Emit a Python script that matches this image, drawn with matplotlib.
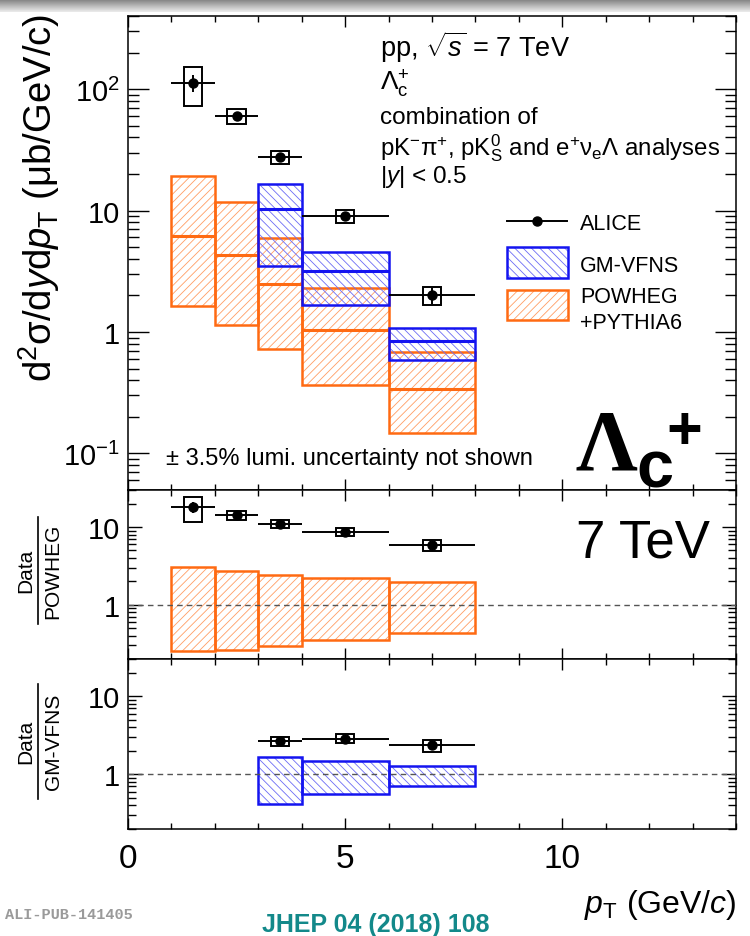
import numpy as np
import matplotlib
matplotlib.use("Agg")
import matplotlib.pyplot as plt
from matplotlib.patches import Rectangle
from matplotlib.lines import Line2D
from matplotlib.ticker import (LogLocator, FixedLocator, FixedFormatter,
                               MultipleLocator, NullFormatter)

plt.rcParams['font.family'] = ['Liberation Sans', 'DejaVu Sans']
plt.rcParams['mathtext.fontset'] = 'custom'
plt.rcParams['mathtext.rm'] = 'Liberation Sans'
plt.rcParams['mathtext.it'] = 'Liberation Sans:italic'
plt.rcParams['mathtext.bf'] = 'Liberation Sans:bold'
plt.rcParams['hatch.linewidth'] = 0.6

# ---------------- data ----------------
bin_lo = [1, 2, 3, 4, 6]
bin_hi = [2, 3, 4, 6, 8]
pt = [1.5, 2.5, 3.5, 5.0, 7.0]

alice_xsec = [113, 60, 27.5, 9.0, 2.0]
alice_stat = [18, 4, 1.5, 0.5, 0.3]
alice_syst = [40, 8, 3.2, 1.1, 0.33]

powheg_central = [6.2, 4.33, 2.49, 1.03, 0.339]
powheg_up = [19.2, 11.7, 5.96, 2.29, 0.68]
powheg_down = [1.63, 1.15, 0.72, 0.363, 0.147]

gm_lo = [3, 4, 6]
gm_hi = [4, 6, 8]
gm_central = [10.3, 3.16, 0.85]
gm_up = [16.4, 4.54, 1.08]
gm_down = [3.5, 1.67, 0.59]

ratio_pow = [18.0, 14.1, 11.1, 8.7, 5.9]
ratio_pow_stat = [3.0, 1.0, 0.6, 0.4, 0.6]
ratio_pow_syst = [6.5, 1.8, 1.4, 1.1, 0.95]
pow_band_up = [3.07, 2.70, 2.40, 2.22, 1.99]
pow_band_down = [0.257, 0.26, 0.29, 0.35, 0.43]

gm_pt = [3.5, 5.0, 7.0]
ratio_gm = [2.65, 2.87, 2.35]
ratio_gm_stat = [0.15, 0.15, 0.3]
ratio_gm_syst = [0.36, 0.38, 0.41]
gm_band_up = [1.67, 1.47, 1.29]
gm_band_down = [0.42, 0.565, 0.71]

ORANGE = '#ff6a12'
ORANGE_H = '#ff9d63'
BLUE = '#1414f0'
BLUE_H = '#6c6cf5'
HATCH_POW = '////'
HATCH_GM = '\\\\\\\\'

W_PX, H_PX = 750, 937
fig = plt.figure(figsize=(7.5, 9.37), dpi=100)


def fx(x):
    return x / W_PX


def fy(y):
    return 1 - y / H_PX


def add_ax(top, bot, left=128, right=736):
    return fig.add_axes([fx(left), fy(bot), (right - left) / W_PX, (bot - top) / H_PX])


ax1 = add_ax(17, 491)
ax2 = add_ax(491, 660)
ax3 = add_ax(660, 830)

# gradient strip at the very top
axg = fig.add_axes([0, fy(13), 1, 13 / H_PX])
axg.imshow(np.linspace(0.5, 0.92, 20)[:, None], cmap='gray', vmin=0, vmax=1,
           aspect='auto', extent=[0, 1, 0, 1])
axg.axis('off')


def band(ax, lo, hi, down, up, color, hcolor, hatch, z):
    ax.add_patch(Rectangle((lo, down), hi - lo, up - down, facecolor='none',
                           edgecolor=hcolor, hatch=hatch, lw=0, zorder=z))
    ax.add_patch(Rectangle((lo, down), hi - lo, up - down, facecolor='none',
                           edgecolor=color, lw=1.8, zorder=z + 0.1))


def data_points(ax, x, y, lo, hi, stat, syst):
    x = np.asarray(x, float)
    for xi, yi, s in zip(x, y, syst):
        ax.add_patch(Rectangle((xi - 0.21, yi - s), 0.42, 2 * s, fill=False,
                               ec='k', lw=1.4, zorder=6))
    ax.errorbar(x, y, xerr=[x - np.asarray(lo), np.asarray(hi) - x], yerr=stat,
                fmt='o', color='k', ms=6.5, lw=1.4, capsize=0, zorder=7)


# ---------------- top panel ----------------
for lo, hi, c, u, d in zip(bin_lo, bin_hi, powheg_central, powheg_up, powheg_down):
    band(ax1, lo, hi, d, u, ORANGE, ORANGE_H, HATCH_POW, 2)
    ax1.hlines(c, lo, hi, color=ORANGE, lw=2.2, zorder=2.5)
for lo, hi, c, u, d in zip(gm_lo, gm_hi, gm_central, gm_up, gm_down):
    band(ax1, lo, hi, d, u, BLUE, BLUE_H, HATCH_GM, 3)
    ax1.hlines(c, lo, hi, color=BLUE, lw=2.2, zorder=3.5)
data_points(ax1, pt, alice_xsec, bin_lo, bin_hi, alice_stat, alice_syst)
ax1.set_ylim(0.05, 400)

# ---------------- Data / POWHEG ----------------
for lo, hi, u, d in zip(bin_lo, bin_hi, pow_band_up, pow_band_down):
    band(ax2, lo, hi, d, u, ORANGE, ORANGE_H, HATCH_POW, 2)
data_points(ax2, pt, ratio_pow, bin_lo, bin_hi, ratio_pow_stat, ratio_pow_syst)
ax2.set_ylim(0.2, 30)

# ---------------- Data / GM-VFNS ----------------
for lo, hi, u, d in zip(gm_lo, gm_hi, gm_band_up, gm_band_down):
    band(ax3, lo, hi, d, u, BLUE, BLUE_H, HATCH_GM, 2)
data_points(ax3, gm_pt, ratio_gm, gm_lo, gm_hi, ratio_gm_stat, ratio_gm_syst)
ax3.set_ylim(0.2, 30)

for ax in (ax2, ax3):
    ax.axhline(1, color='#555555', ls=(0, (4, 3)), lw=1.0, zorder=4)

# ---------------- axes styling ----------------
for ax, ymaj, ymin_len in ((ax1, 15, 8), (ax2, 10, 5.5), (ax3, 10, 5.5)):
    ax.set_xlim(0, 14)
    ax.set_yscale('log')
    ax.xaxis.set_major_locator(MultipleLocator(5))
    ax.xaxis.set_minor_locator(MultipleLocator(1))
    ax.yaxis.set_minor_locator(LogLocator(base=10, subs=np.arange(2, 10), numticks=20))
    ax.yaxis.set_minor_formatter(NullFormatter())
    ax.tick_params(axis='x', which='major', direction='in', top=True, bottom=True,
                   length=8, width=1)
    ax.tick_params(axis='x', which='minor', direction='in', top=True, bottom=True,
                   length=4.3, width=1)
    ax.tick_params(axis='y', which='major', direction='in', left=True, right=True,
                   length=ymaj, width=1, labelsize=21, pad=6)
    ax.tick_params(axis='y', which='minor', direction='in', left=True, right=True,
                   length=ymin_len, width=1)
    for sp in ax.spines.values():
        sp.set_linewidth(1.1)

ax1.yaxis.set_major_locator(FixedLocator([0.1, 1, 10, 100]))
ax1.yaxis.set_major_formatter(FixedFormatter([r'$10^{-1}$', '1', '10', r'$10^{2}$']))
for ax in (ax2, ax3):
    ax.yaxis.set_major_locator(FixedLocator([1, 10]))
    ax.yaxis.set_major_formatter(FixedFormatter(['1', '10']))
ax1.tick_params(axis='x', labelbottom=False)
ax2.tick_params(axis='x', labelbottom=False)
ax3.tick_params(axis='x', labelsize=24, pad=10)

# ---------------- axis titles ----------------
fig.text(fx(39), fy(198), r'd$^{2}$σ/d$y$d$p_{\mathrm{T}}$ (μb/GeV/c)',
         rotation=90, ha='center', va='center', fontsize=27.5)
fig.text(fx(736), fy(905), r'$p_{\mathrm{T}}$ (GeV/$c$)', ha='right', va='center',
         fontsize=23)

for dy, denom in ((571, 'POWHEG'), (742, 'GM-VFNS')):
    fig.text(fx(26), fy(dy), 'Data', rotation=90, ha='center', va='center', fontsize=15)
    fig.text(fx(53), fy(dy), denom, rotation=90, ha='center', va='center', fontsize=15)
fig.add_artist(Line2D([fx(38)] * 2, [fy(518), fy(625)], transform=fig.transFigure,
                      color='k', lw=1.2))
fig.add_artist(Line2D([fx(38)] * 2, [fy(685), fy(800)], transform=fig.transFigure,
                      color='k', lw=1.2))

# ---------------- annotations ----------------
tx = fx(380)
fig.text(tx, fy(57), r'pp, $\sqrt{s}$ = 7 TeV', fontsize=19.5, va='baseline')
fig.text(tx, fy(91), r'$\Lambda_{\mathrm{c}}^{+}$', fontsize=19, va='baseline')
fig.text(tx, fy(124), 'combination of', fontsize=17.5, va='baseline')
fig.text(tx, fy(155), r'pK$^{-}$π$^{+}$, pK$_{\mathrm{S}}^{0}$ and e$^{+}$ν$_{\mathrm{e}}$Λ analyses',
         fontsize=17.3, va='baseline')
fig.text(tx, fy(183), r'|$y$| < 0.5', fontsize=17.5, va='baseline')

fig.text(fx(166), fy(465), '± 3.5% lumi. uncertainty not shown', fontsize=17,
         va='baseline')

fig.text(fx(575), fy(470), 'Λ', fontsize=62, fontweight='bold',
         family=['Liberation Serif', 'DejaVu Serif'], va='baseline')
fig.text(fx(636), fy(487), 'c', fontsize=48, fontweight='bold', va='baseline')
fig.text(fx(666), fy(449), '+', fontsize=44, fontweight='bold', va='baseline')

fig.text(fx(576), fy(558), '7 TeV', fontsize=38, va='baseline')

# ---------------- legend ----------------
fig.add_artist(Line2D([fx(507), fx(567)], [fy(222)] * 2, transform=fig.transFigure,
                      color='k', lw=1.4))
fig.add_artist(Line2D([fx(537)], [fy(222)], transform=fig.transFigure, color='k',
                      marker='o', ms=6.5))
fig.text(fx(580), fy(230), 'ALICE', fontsize=15.5, va='baseline')

for (top, bot), col, hcol, hatch in (((248, 279), BLUE, BLUE_H, HATCH_GM),
                                     ((291, 321), ORANGE, ORANGE_H, HATCH_POW)):
    fig.add_artist(Rectangle((fx(507), fy(bot)), 61 / W_PX, (bot - top) / H_PX,
                             transform=fig.transFigure, facecolor='none',
                             edgecolor=hcol, hatch=hatch, lw=0))
    fig.add_artist(Rectangle((fx(507), fy(bot)), 61 / W_PX, (bot - top) / H_PX,
                             transform=fig.transFigure, facecolor='none',
                             edgecolor=col, lw=1.8))
fig.text(fx(580), fy(272), 'GM-VFNS', fontsize=15.5, va='baseline')
fig.text(fx(580), fy(303), 'POWHEG', fontsize=15.5, va='baseline')
fig.text(fx(580), fy(329), '+PYTHIA6', fontsize=15.5, va='baseline')

# ---------------- footer ----------------
fig.text(fx(5), fy(915), 'ALI-PUB-141405', fontsize=11, color='#9a9a9a',
         family=['Liberation Mono', 'DejaVu Sans Mono'], fontweight='bold', va='center')
fig.text(fx(376), fy(925), 'JHEP 04 (2018) 108', fontsize=18, color='#13898a',
         fontweight='bold', ha='center', va='center')

fig.savefig('out.png', dpi=100)
